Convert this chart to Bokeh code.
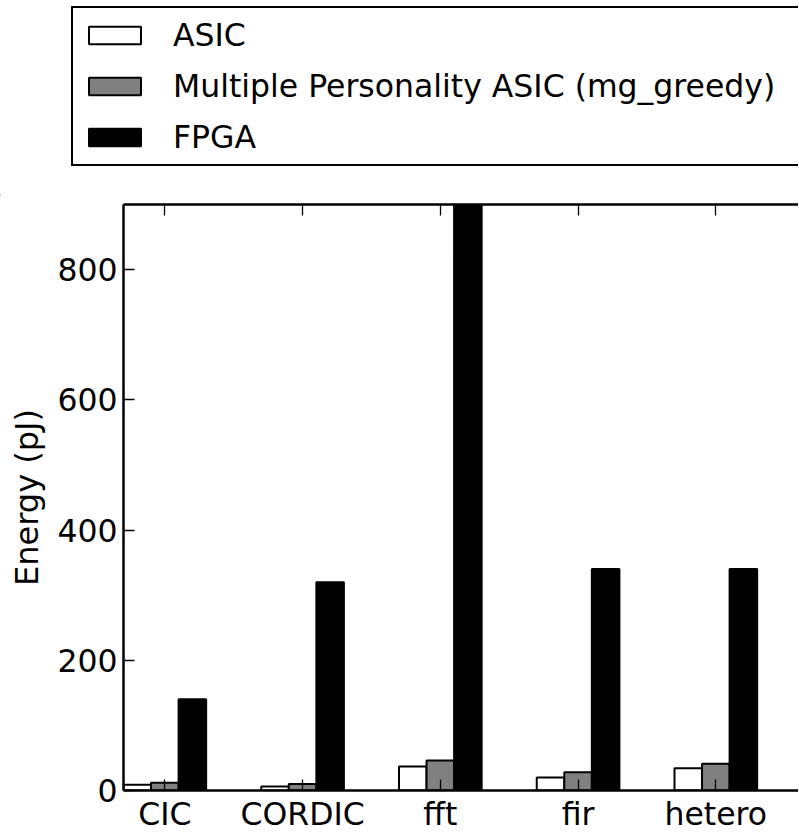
from bokeh.plotting import figure
from bokeh.models import (Range1d, FixedTicker, LinearAxis, ColumnDataSource,
                          CustomLabelingPolicy, Legend, LegendItem)
from bokeh.layouts import column
from bokeh.embed import file_html
from bokeh.resources import INLINE

categories = ["CIC", "CORDIC", "fft", "fir", "hetero"]
asic = [9, 6, 37, 20, 34]
mp_asic = [12, 10, 46, 28, 41]
fpga = [140, 320, 1000, 340, 340]
series_names = ["ASIC", "Multiple Personality ASIC (mg_greedy)", "FPGA"]
series_values = [asic, mp_asic, fpga]
series_colors = ["white", "#808080", "black"]
y_ticks = [0, 200, 400, 600, 800]

FONT = "DejaVu Sans"
FS = "31.5px"
W = 798
idx = list(range(len(categories)))
bar_w = 0.2
offsets = [-0.2, 0.0, 0.2]
LEFT = 123
FRAME_W = W - LEFT
UNIT_PX = 137.75
LEG_H = 196


def no_align(fig):
    if "frame_align" in fig.properties():
        fig.frame_align = False


p = figure(frame_width=FRAME_W, frame_height=586,
           x_range=Range1d(-0.3, -0.3 + FRAME_W / UNIT_PX), y_range=Range1d(0, 900),
           output_backend="svg", toolbar_location=None,
           min_border_left=LEFT, min_border_right=0, min_border_top=8, min_border_bottom=0)
no_align(p)
p.outline_line_color = None
p.grid.visible = False
p.background_fill_color = "white"

for vals, col, off in zip(series_values, series_colors, offsets):
    src = ColumnDataSource(dict(x=[i + off for i in idx], top=vals))
    p.vbar(x="x", top="top", width=bar_w, bottom=0, source=src,
           fill_color=col, line_color="black", line_width=2)

# x axis (bottom)
xa = p.xaxis[0]
xa.ticker = FixedTicker(ticks=idx)
xa.major_label_overrides = {i: c for i, c in enumerate(categories)}
xa.major_label_text_font = FONT
xa.major_label_text_font_size = FS
xa.major_label_text_color = "black"
xa.major_label_standoff = 5
xa.major_tick_in = 11
xa.major_tick_out = 0
xa.minor_tick_line_color = None
xa.axis_line_width = 2.5
xa.axis_line_color = "black"
xa.major_tick_line_width = 1.3
xa.major_tick_line_color = "black"

# y axis
ya = p.yaxis[0]
ya.ticker = FixedTicker(ticks=y_ticks)
ya.major_label_text_font = FONT
ya.major_label_text_font_size = FS
ya.major_label_text_color = "black"
ya.major_label_standoff = 6
ya.major_tick_in = 11
ya.major_tick_out = 0
ya.minor_tick_line_color = None
ya.axis_line_width = 2.5
ya.axis_line_color = "black"
ya.major_tick_line_width = 1.3
ya.major_tick_line_color = "black"
ya.axis_label = "Energy (pJ)"
ya.axis_label_text_font = FONT
ya.axis_label_text_font_size = "32px"
ya.axis_label_text_color = "black"
ya.axis_label_text_font_style = "normal"
ya.axis_label_standoff = 8

# top axis (frame line + inward ticks, no labels)
top = LinearAxis(ticker=FixedTicker(ticks=idx),
                 major_label_policy=CustomLabelingPolicy(code="return new Set()"),
                 major_label_text_font_size="1px",
                 major_label_standoff=0, major_tick_in=11, major_tick_out=0,
                 minor_tick_line_color=None, axis_line_width=2.5, axis_line_color="black",
                 major_tick_line_width=1.3, major_tick_line_color="black")
p.add_layout(top, "above")

# legend panel (its own small figure above the chart)
lf = figure(width=W, height=LEG_H, x_range=Range1d(0, 1), y_range=Range1d(0, 1),
            output_backend="svg", toolbar_location=None, min_border=0,
            x_axis_location=None, y_axis_location=None)
no_align(lf)
lf.grid.visible = False
lf.outline_line_color = None
items = []
for name, col in zip(series_names, series_colors):
    r = lf.vbar(x=[-10], top=[0], width=0.1, fill_color=col, line_color="black", line_width=2)
    items.append(LegendItem(label=name, renderers=[r]))
legend = Legend(items=items, location=(71, 30), orientation="vertical",
                border_line_color="black", border_line_width=2.5, border_line_alpha=1,
                padding=9, spacing=15, glyph_width=65, glyph_height=22,
                label_standoff=26, label_text_font=FONT, label_text_font_size=FS,
                label_text_color="black", label_height=35, label_width=700, margin=0,
                background_fill_color="white", background_fill_alpha=1)
lf.add_layout(legend)

layout = column(lf, p)
open("out.html", "w").write(file_html(layout, INLINE))
